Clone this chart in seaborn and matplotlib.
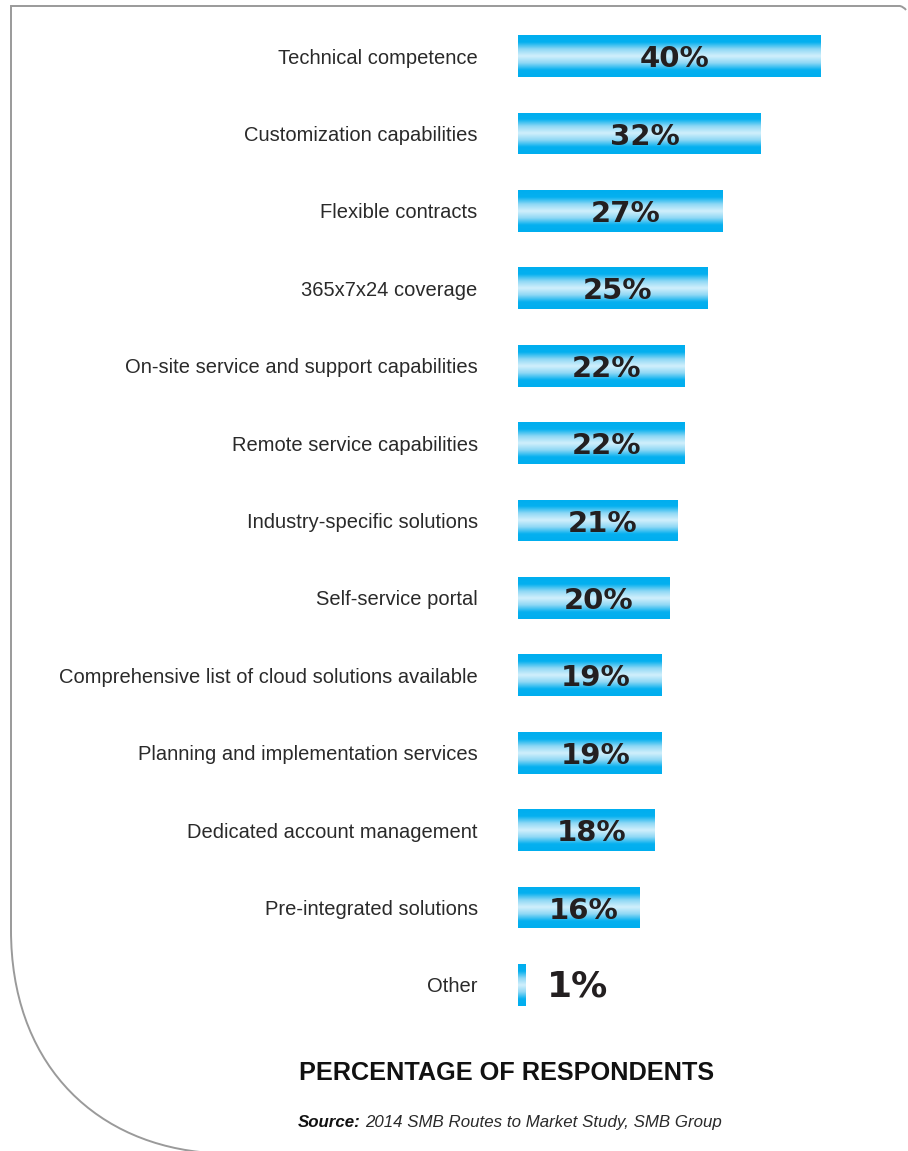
import numpy as np
import pandas as pd
import matplotlib
matplotlib.use("Agg")
import matplotlib.pyplot as plt
import seaborn as sns
from matplotlib import font_manager
from matplotlib.colors import LinearSegmentedColormap
from matplotlib.path import Path
from matplotlib.patches import PathPatch

# --- Data ---
categories = [
    "Technical competence",
    "Customization capabilities",
    "Flexible contracts",
    "365x7x24 coverage",
    "On-site service and support capabilities",
    "Remote service capabilities",
    "Industry-specific solutions",
    "Self-service portal",
    "Comprehensive list of cloud solutions available",
    "Planning and implementation services",
    "Dedicated account management",
    "Pre-integrated solutions",
    "Other",
]
values = [40, 32, 27, 25, 22, 22, 21, 20, 19, 19, 18, 16, 1]

df = pd.DataFrame({"category": categories, "pct": values})

# --- Fonts ---
installed = {f.name for f in font_manager.fontManager.ttflist}
narrow = "Liberation Sans Narrow" if "Liberation Sans Narrow" in installed else "Liberation Sans"

sns.set_theme(style="white")
plt.rcParams["font.family"] = ["DejaVu Sans"]

W, H = 908, 1151
fig = plt.figure(figsize=(W / 100, H / 100), dpi=100)
fig.patch.set_facecolor("white")

# axes: 7.575 px per percent, bars start at x=518
xmax = 48
ax = fig.add_axes([518 / W, 1 - 1023.7 / H, xmax * 7.575 / W, (1023.7 - 17.3) / H])
ax.set_facecolor("none")

sns.barplot(data=df, x="pct", y="category", orient="h", color="#00aeef",
            width=0.54, ax=ax, saturation=1)

ax.set_xlim(0, xmax)
ax.set_ylim(len(categories) - 0.5, -0.5)
ax.set_xlabel("")
ax.set_ylabel("")
ax.set_xticks([])
for s in ax.spines.values():
    s.set_visible(False)
ax.tick_params(axis="y", length=0, pad=29)
for lab in ax.get_yticklabels():
    lab.set_fontfamily(narrow)
    lab.set_fontsize(14.5)
    lab.set_color("#2a2a2a")

# gradient fill inside each bar
grad_cmap = LinearSegmentedColormap.from_list(
    "bar", ["#00aeef", "#05b0ef", "#8fd8f5", "#d2f0fc", "#8fd8f5", "#05b0ef", "#00aeef"])
grad = np.linspace(0, 1, 100).reshape(-1, 1)
for p in ax.patches:
    x0, y0 = p.get_x(), p.get_y()
    w, h = p.get_width(), p.get_height()
    p.set_edgecolor("none")
    im = ax.imshow(grad, cmap=grad_cmap, aspect="auto", interpolation="bicubic",
                   extent=[x0, x0 + w, y0 + h, y0], zorder=p.get_zorder() + 0.1)
    im.set_clip_path(p)

# value labels
for i, v in enumerate(values):
    if v >= 5:
        ax.text(v / 2 + 0.7, i + 0.04, f"{v}%", ha="center", va="center",
                fontsize=21, fontweight="bold", color="#231f20", zorder=5)
    else:
        ax.text(v + 2.8, i + 0.02, f"{v}%", ha="left", va="center",
                fontsize=26, fontweight="bold", color="#231f20", zorder=5)

# axis title and source
fig.text(507 / W, 1 - 1073 / H, "PERCENTAGE OF RESPONDENTS", ha="center", va="center",
         fontsize=18.2, fontweight="bold", family="Liberation Sans", color="#111111")
src_y = 1 - 1127 / H
src = fig.text(298 / W, src_y, "Source:", ha="left", va="baseline", fontsize=12.2,
               fontweight="bold", style="italic", family=narrow, color="#111111")
fig.canvas.draw()
bb = src.get_window_extent()
fig.text((bb.x1 + 4) / W, src_y, "2014 SMB Routes to Market Study, SMB Group",
         ha="left", va="baseline", fontsize=12.2, style="italic", family=narrow,
         color="#2a2a2a")

# rounded frame
def fp(x, y):
    return (x / W, 1 - y / H)

verts = [fp(200, 1152), fp(90, 1140), fp(11, 1060), fp(11, 930),
         fp(11, 6), fp(900, 6), fp(904, 7), fp(906, 10)]
codes = [Path.MOVETO, Path.CURVE4, Path.CURVE4, Path.CURVE4,
         Path.LINETO, Path.LINETO, Path.CURVE3, Path.CURVE3]
frame = PathPatch(Path(verts, codes), transform=fig.transFigure, fill=False,
                  edgecolor="#9a9a9a", lw=1.4)
fig.patches.append(frame)

fig.savefig("out.png", dpi=100, facecolor="white")
